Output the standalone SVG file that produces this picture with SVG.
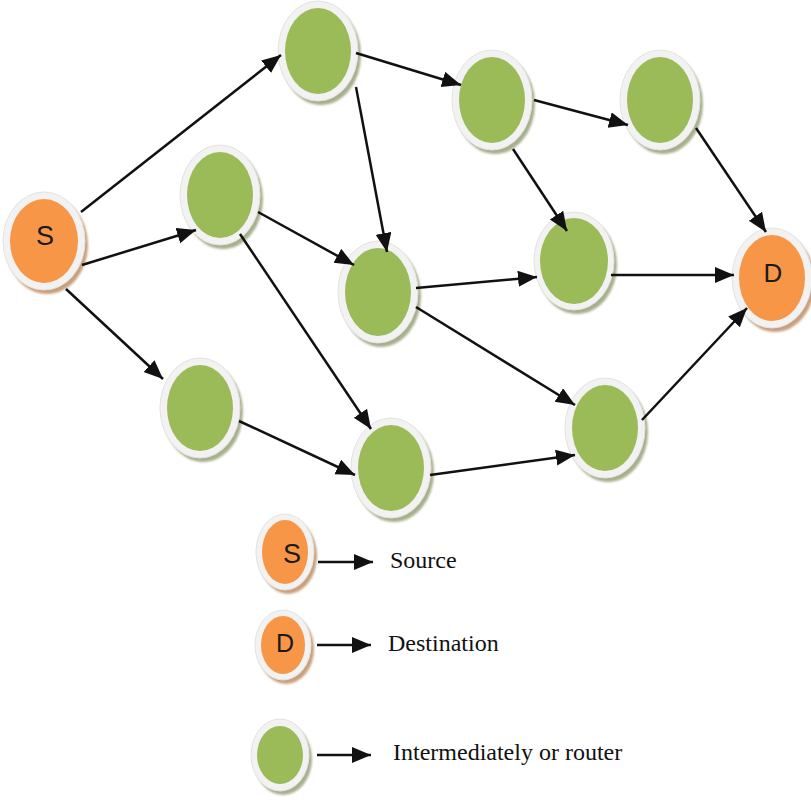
<svg xmlns="http://www.w3.org/2000/svg" width="811" height="800" viewBox="0 0 811 800">
  <defs>
    <style>
      .ring { fill: #f2f2f2; stroke: #e3e3e3; stroke-width: 1; }
      .sh-g { fill: #a7b08c; filter: url(#soft); }
      .sh-o { fill: #c9a07c; filter: url(#soft); }
      .g { fill: #9bbb59; }
      .o { fill: #f79646; }
      .lbl { font-family: "Liberation Sans", Arial, sans-serif; fill: #1a1a1a; text-anchor: middle; }
      .leg { font-family: "Liberation Serif", "Times New Roman", serif; font-size: 24px; fill: #111; }
      .edge { stroke: #111; stroke-width: 2.5; fill: none; marker-end: url(#arrow); }
    </style>
    <filter id="soft" x="-20%" y="-20%" width="140%" height="140%">
      <feGaussianBlur stdDeviation="1"/>
    </filter>
    <marker id="arrow" markerUnits="userSpaceOnUse" markerWidth="22" markerHeight="18" refX="19" refY="8" orient="auto">
      <path d="M0,0 L19,8 L0,16 z" fill="#111"/>
    </marker>
  </defs>

  <rect width="811" height="800" fill="#ffffff"/>

  <!-- source node -->
  <g id="node-S">
    <ellipse class="sh-o" cx="47" cy="245" rx="41" ry="49"/>
    <ellipse class="ring" cx="44" cy="241" rx="41" ry="49"/>
    <ellipse class="o" cx="44" cy="241" rx="34" ry="42"/>
    <text class="lbl" x="45" y="245" font-size="27">S</text>
  </g>

  <g id="node-A">
    <ellipse class="sh-g" cx="321" cy="55" rx="40" ry="50"/>
    <ellipse class="ring" cx="318" cy="51" rx="40" ry="50"/>
    <ellipse class="g" cx="318" cy="51" rx="33" ry="43"/>
  </g>

  <g id="node-B">
    <ellipse class="sh-g" cx="223" cy="199" rx="40" ry="50"/>
    <ellipse class="ring" cx="220" cy="195" rx="40" ry="50"/>
    <ellipse class="g" cx="220" cy="195" rx="33" ry="43"/>
  </g>

  <g id="node-C">
    <ellipse class="sh-g" cx="495" cy="104" rx="40" ry="50"/>
    <ellipse class="ring" cx="492" cy="100" rx="40" ry="50"/>
    <ellipse class="g" cx="492" cy="100" rx="33" ry="43"/>
  </g>

  <g id="node-E">
    <ellipse class="sh-g" cx="663" cy="104" rx="40" ry="50"/>
    <ellipse class="ring" cx="660" cy="100" rx="40" ry="50"/>
    <ellipse class="g" cx="660" cy="100" rx="33" ry="43"/>
  </g>

  <g id="node-F">
    <ellipse class="sh-g" cx="381" cy="296" rx="40" ry="51"/>
    <ellipse class="ring" cx="378" cy="292" rx="40" ry="51"/>
    <ellipse class="g" cx="378" cy="292" rx="33" ry="44"/>
  </g>

  <g id="node-G">
    <ellipse class="sh-g" cx="577" cy="265" rx="40" ry="49"/>
    <ellipse class="ring" cx="574" cy="261" rx="40" ry="49"/>
    <ellipse class="g" cx="574" cy="261" rx="34" ry="43"/>
  </g>

  <g id="node-H">
    <ellipse class="sh-g" cx="203" cy="412" rx="40" ry="50"/>
    <ellipse class="ring" cx="200" cy="408" rx="40" ry="50"/>
    <ellipse class="g" cx="200" cy="408" rx="33" ry="43"/>
  </g>

  <g id="node-I">
    <ellipse class="sh-g" cx="394" cy="472" rx="40" ry="50"/>
    <ellipse class="ring" cx="391" cy="468" rx="40" ry="50"/>
    <ellipse class="g" cx="391" cy="468" rx="33" ry="43"/>
  </g>

  <g id="node-J">
    <ellipse class="sh-g" cx="608" cy="432" rx="40" ry="50"/>
    <ellipse class="ring" cx="605" cy="428" rx="40" ry="50"/>
    <ellipse class="g" cx="605" cy="428" rx="33" ry="43"/>
  </g>

  <!-- destination node -->
  <g id="node-D">
    <ellipse class="sh-o" cx="775" cy="282" rx="40" ry="50"/>
    <ellipse class="ring" cx="772" cy="278" rx="40" ry="50"/>
    <ellipse class="o" cx="772" cy="278" rx="33" ry="43"/>
    <text class="lbl" x="773" y="282" font-size="26">D</text>
  </g>

  <!-- legend -->
  <g id="legend-source">
    <ellipse class="sh-o" cx="288" cy="556" rx="29" ry="38"/>
    <ellipse class="ring" cx="285" cy="552" rx="29" ry="38"/>
    <ellipse class="o" cx="285" cy="552" rx="23" ry="32"/>
    <text class="lbl" x="292" y="563" font-size="27">S</text>
    <text class="leg" x="390" y="568">Source</text>
  </g>

  <g id="legend-destination">
    <ellipse class="sh-o" cx="286" cy="649" rx="28" ry="35"/>
    <ellipse class="ring" cx="283" cy="645" rx="28" ry="35"/>
    <ellipse class="o" cx="283" cy="645" rx="22" ry="29"/>
    <text class="lbl" x="285" y="652" font-size="25">D</text>
    <text class="leg" x="388" y="651">Destination</text>
  </g>

  <g id="legend-router">
    <ellipse class="sh-g" cx="283" cy="759" rx="29" ry="36"/>
    <ellipse class="ring" cx="280" cy="755" rx="29" ry="36"/>
    <ellipse class="g" cx="280" cy="755" rx="23" ry="29"/>
    <text class="leg" x="393" y="760">Intermediately or router</text>
  </g>

  <!-- connectors, drawn above the nodes so arrowheads stay visible -->
  <g id="connectors">
    <line class="edge" x1="81" y1="212" x2="281" y2="55"/>
    <line class="edge" x1="82" y1="265" x2="196" y2="230"/>
    <line class="edge" x1="66" y1="289" x2="163" y2="379"/>
    <line class="edge" x1="356" y1="53" x2="461" y2="85"/>
    <line class="edge" x1="356" y1="87" x2="387" y2="252"/>
    <line class="edge" x1="258" y1="212" x2="354" y2="265"/>
    <line class="edge" x1="240" y1="234" x2="371" y2="429"/>
    <line class="edge" x1="534" y1="100" x2="628" y2="125"/>
    <line class="edge" x1="513" y1="149" x2="567" y2="231"/>
    <line class="edge" x1="696" y1="128" x2="766" y2="232"/>
    <line class="edge" x1="416" y1="288" x2="537" y2="277"/>
    <line class="edge" x1="416" y1="307" x2="575" y2="405"/>
    <line class="edge" x1="611" y1="275" x2="734" y2="275"/>
    <line class="edge" x1="239" y1="421" x2="355" y2="475"/>
    <line class="edge" x1="430" y1="475" x2="575" y2="455"/>
    <line class="edge" x1="642" y1="420" x2="747" y2="308"/>
    <!-- legend arrows -->
    <line class="edge" x1="318" y1="562" x2="373" y2="562"/>
    <line class="edge" x1="317" y1="645" x2="371" y2="645"/>
    <line class="edge" x1="317" y1="755" x2="371" y2="755"/>
  </g>
</svg>
